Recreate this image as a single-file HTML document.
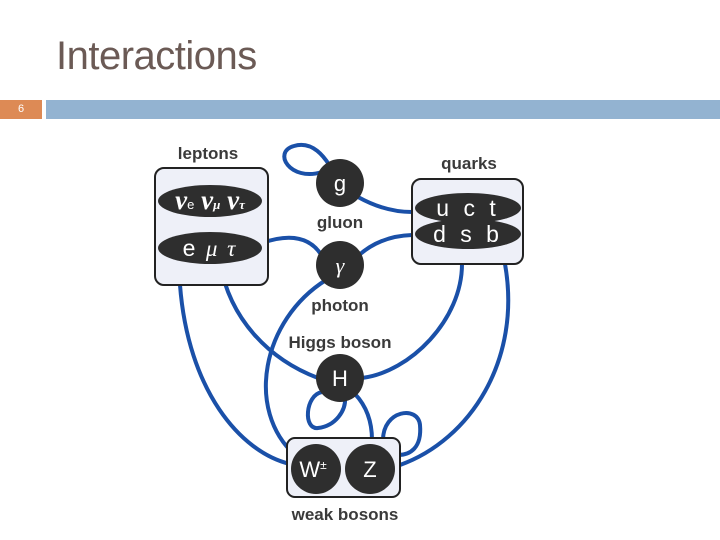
<!DOCTYPE html>
<html><head><meta charset="utf-8"><style>
html,body{margin:0;padding:0;background:#fff;}
body{width:720px;height:540px;position:relative;overflow:hidden;font-family:"Liberation Sans",sans-serif;}
</style></head><body>
<div style="position:absolute;left:56px;top:34px;font-size:40px;color:#6b5a55;letter-spacing:-0.5px;">Interactions</div>
<div style="position:absolute;left:0;top:100px;width:42px;height:19px;background:#dd8a55;color:#fff;font-size:11px;line-height:19px;padding-left:18px;box-sizing:border-box;">6</div>
<div style="position:absolute;left:46px;top:100px;width:674px;height:19px;background:#93b3d1;"></div>
<svg width="720" height="540" style="position:absolute;left:0;top:0" font-family="Liberation Sans, sans-serif">
<g fill="none" stroke="#1a50a8" stroke-width="4">
<path d="M322,172 C290,182 272,152 294,146 C314,140 326,160 330,166"/>
<path d="M358,197 Q385,212 412,212"/>
<path d="M262,243 Q305,228 322,256"/>
<path d="M358,256 Q380,236 412,235"/>
<path d="M326,280 C262,320 245,410 295,455"/>
<path d="M180,285 C188,390 240,452 290,464"/>
<path d="M220,263 C230,320 270,360 318,378"/>
<path d="M462,264 C462,320 410,372 362,378"/>
<path d="M505,264 C522,360 470,440 400,465"/>
<path d="M322,392 C305,395 303,430 318,428 C336,426 346,410 345,398"/>
<path d="M355,394 Q372,412 372,440"/>
<path d="M383,440 C383,410 418,405 420,425 C422,448 410,455 398,455"/>
</g>
<rect x="155" y="168" width="113" height="117" rx="9" fill="#eef0f8" stroke="#222" stroke-width="2"/>
<rect x="412" y="179" width="111" height="85" rx="9" fill="#eef0f8" stroke="#222" stroke-width="2"/>
<rect x="287" y="438" width="113" height="59" rx="8" fill="#eef0f8" stroke="#222" stroke-width="2"/>
<g fill="#2e2e2e">
<ellipse cx="210" cy="201" rx="52" ry="16"/>
<ellipse cx="210" cy="248" rx="52" ry="16"/>
<ellipse cx="468" cy="208" rx="53" ry="15"/>
<ellipse cx="468" cy="234" rx="53" ry="15"/>
<circle cx="340" cy="183" r="24"/>
<circle cx="340" cy="265" r="24"/>
<circle cx="340" cy="378" r="24"/>
<circle cx="316" cy="469" r="25"/>
<circle cx="370" cy="469" r="25"/>
</g>
<g fill="#3a3a3a" font-weight="bold" font-size="17" text-anchor="middle">
<text x="208" y="159">leptons</text>
<text x="469" y="169">quarks</text>
<text x="340" y="228">gluon</text>
<text x="340" y="311">photon</text>
<text x="340" y="348">Higgs boson</text>
<text x="345" y="520">weak bosons</text>
</g>
<g fill="#fff" font-size="22" text-anchor="middle">
<text x="340" y="191">g</text>
<text x="340" y="273" font-style="italic" font-family="Liberation Serif, serif">γ</text>
<text x="340" y="386">H</text>
<text x="313" y="477">W<tspan font-size="12" dy="-8">±</tspan></text>
<text x="370" y="477">Z</text>
<text x="468" y="216" font-size="23" letter-spacing="4">u c t</text>
<text x="468" y="242" font-size="23" letter-spacing="4">d s b</text>
<text x="210" y="256" font-size="23" letter-spacing="2">e <tspan font-style="italic" font-family="Liberation Serif, serif">μ τ</tspan></text>
<text x="210" y="209" font-size="27" font-weight="bold" font-style="italic" font-family="Liberation Serif, serif">ν<tspan font-size="13" font-weight="normal" font-style="normal" font-family="Liberation Sans">e</tspan> ν<tspan font-size="13">μ</tspan> ν<tspan font-size="13">τ</tspan></text>
</g>
</svg>
</body></html>
